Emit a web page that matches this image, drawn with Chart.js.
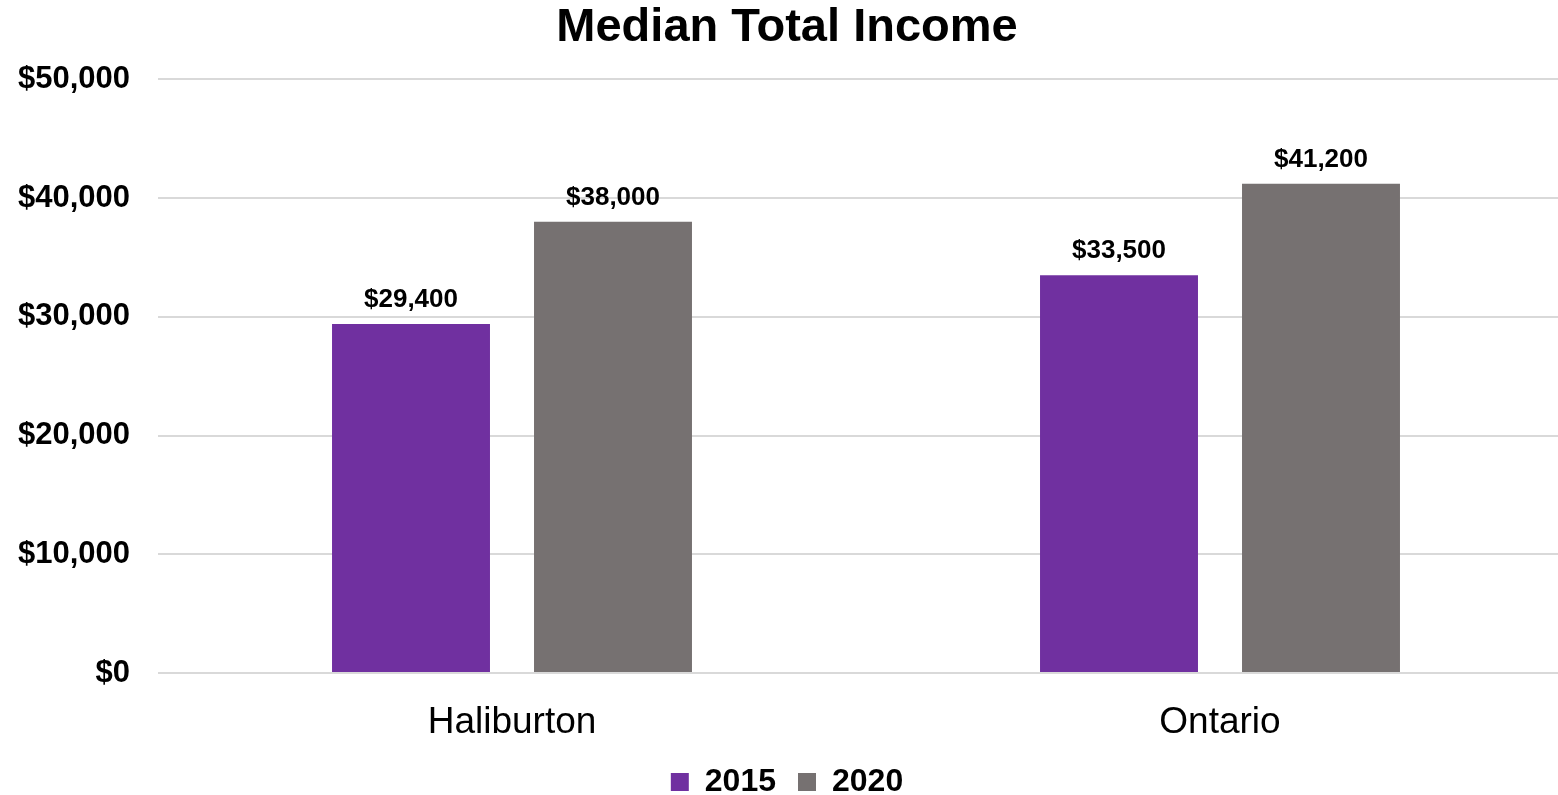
<!DOCTYPE html>
<html>
<head>
<meta charset="utf-8">
<title>Median Total Income</title>
<script src="https://cdn.jsdelivr.net/npm/chart.js@4/dist/chart.umd.min.js"></script>
<style>
  html, body { margin: 0; padding: 0; background: #fff; overflow: hidden; }
  #wrap { position: relative; width: 1574px; height: 795px; }
</style>
</head>
<body>
<div id="wrap"><canvas id="chart"></canvas></div>
<script>
const categories = ["Haliburton", "Ontario"];
const income2015 = [29400, 33500];
const income2020 = [38000, 41200];
const seriesNames = ["2015", "2020"];
const yMax = 50000;
const yStep = 10000;

const FONT = "'Liberation Sans', Arial, sans-serif";
const money = (v) => "$" + v.toLocaleString("en-US");

// draws the value above each bar
const barLabels = {
  id: "barLabels",
  afterDatasetsDraw(chart) {
    const ctx = chart.ctx;
    ctx.save();
    ctx.font = "bold 26px " + FONT;
    ctx.fillStyle = "#000";
    ctx.textAlign = "center";
    ctx.textBaseline = "bottom";
    chart.data.datasets.forEach((ds, i) => {
      chart.getDatasetMeta(i).data.forEach((bar, j) => {
        ctx.fillText(money(ds.data[j]), bar.x, bar.y - 11);
      });
    });
    ctx.restore();
  }
};

new Chart(document.getElementById("chart"), {
  type: "bar",
  data: {
    labels: categories,
    datasets: [
      {
        label: seriesNames[0],
        data: income2015,
        backgroundColor: "#7030A0",
        barPercentage: 0.782,
        categoryPercentage: 0.5706,
      },
      {
        label: seriesNames[1],
        data: income2020,
        backgroundColor: "#767171",
        barPercentage: 0.782,
        categoryPercentage: 0.5706,
      },
    ],
  },
  options: {
    responsive: true,
    maintainAspectRatio: false,
    animation: false,
    layout: { padding: { left: 0, right: 0, top: 0, bottom: -13 } },
    plugins: {
      title: {
        display: true,
        text: "Median Total Income",
        color: "#000",
        font: { family: FONT, size: 47, weight: "bold" },
        padding: { top: 0, bottom: 23 },
      },
      legend: {
        position: "bottom",
        labels: {
          color: "#000",
          boxWidth: 18,
          boxHeight: 18,
          padding: 22,
          font: { family: FONT, size: 32, weight: "bold" },
        },
      },
      tooltip: { enabled: false },
    },
    scales: {
      x: {
        afterFit(scale) { scale.height = 71; },
        grid: { display: false },
        border: { display: false },
        ticks: {
          color: "#000",
          padding: 20,
          font: { family: FONT, size: 37 },
        },
      },
      y: {
        min: 0,
        max: yMax,
        afterFit(scale) { scale.width = 158; },
        grid: { color: "#d9d9d9", lineWidth: 2, drawTicks: false },
        border: { display: false },
        ticks: {
          stepSize: yStep,
          color: "#000",
          padding: 28,
          font: { family: FONT, size: 31, weight: "bold" },
          callback: (v) => money(v),
        },
      },
    },
  },
  plugins: [barLabels],
});
</script>
</body>
</html>
